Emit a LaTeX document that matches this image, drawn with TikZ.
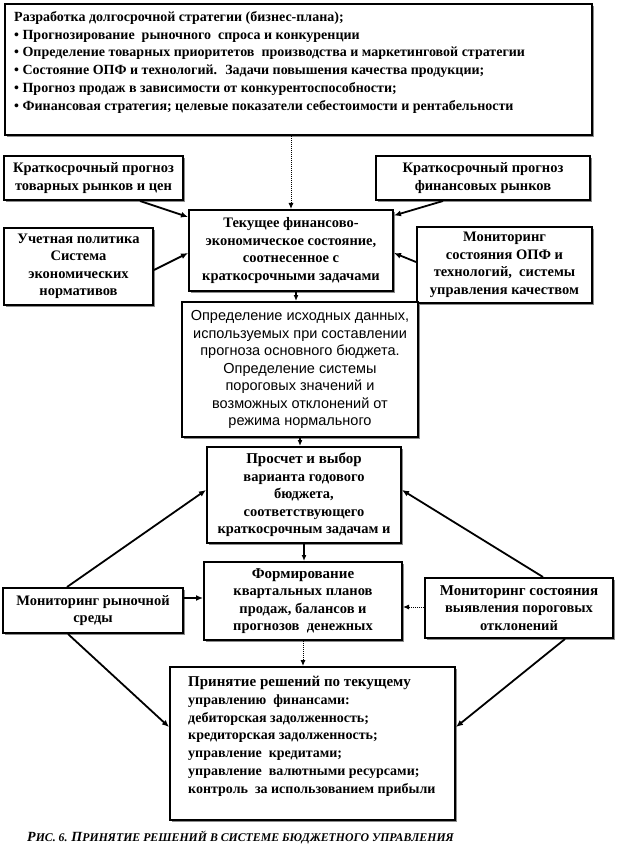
\documentclass[tikz,border=0pt]{standalone}
\usepackage{fontspec}
\setmainfont{Liberation Serif}
\newfontfamily\arialf{Liberation Sans}
\usetikzlibrary{arrows.meta,shadows,calc}
\begin{document}
\begin{tikzpicture}[x=1pt,y=-1pt,
  box/.style={draw=black, line width=2pt, fill=white, inner sep=1pt, align=center,
    font=\fontsize{14.5}{17.5}\selectfont\bfseries,
    drop shadow={shadow xshift=2pt, shadow yshift=-2pt, fill=black!45, opacity=1}},
  arr/.style={line width=1.8pt, -{Latex[length=7pt,width=6pt]}},
  arrthin/.style={line width=1pt, densely dotted, -{Latex[length=6pt,width=5pt]}},
  arrshort/.style={line width=1.4pt, -{Latex[length=6pt,width=5pt]}}]
\useasboundingbox (0,0) rectangle (623,866);
\fill[white] (0,0) rectangle (623,866);

% boxes
\node[box, minimum width=587pt, minimum height=131pt] (top) at (298.5,69.5) {};
\node[anchor=north west, align=left, inner sep=0pt, font=\fontsize{14}{17.8}\selectfont\bfseries] (toptxt) at (14,11)
 {Разработка долгосрочной стратегии (бизнес-плана);\\
  • Прогнозирование \ рыночного \ спроса и конкуренции\\
  • Определение товарных приоритетов \ производства и маркетинговой стратегии\\
  • Состояние ОПФ и технологий. \ Задачи повышения качества продукции;\\
  • Прогноз продаж в зависимости от конкурентоспособности;\\
  • Финансовая стратегия; целевые показатели себестоимости и рентабельности};

\node[box, minimum width=179pt, minimum height=44pt] (kp1) at (93.5,178)
 {Краткосрочный прогноз\\товарных рынков и цен};
\node[box, minimum width=214pt, minimum height=44pt] (kp2) at (483,178)
 {Краткосрочный прогноз\\финансовых рынков};
\node[box, minimum width=204pt, minimum height=81pt] (cur) at (291,250.5)
 {Текущее финансово-\\экономическое состояние,\\соотнесенное с\\краткосрочными задачами};
\node[box, minimum width=149pt, minimum height=77pt] (uch) at (78.5,266.5)
 {Учетная политика\\Система\\экономических\\нормативов};
\node[box, minimum width=175pt, minimum height=76pt] (mon1) at (504.5,265)
 {Мониторинг\\состояния ОПФ и\\технологий, \ системы\\управления качеством};
\node[box, minimum width=236pt, minimum height=135pt, font=\fontsize{14.5}{17.5}\selectfont\arialf] (opr) at (300,369.5)
 {Определение исходных данных,\\используемых при составлении\\прогноза основного бюджета.\\Определение системы\\пороговых значений и\\возможных отклонений от\\режима нормального};
\node[box, minimum width=194pt, minimum height=96pt] (pros) at (304,495)
 {{\fontsize{15}{17.5}\selectfont Просчет и выбор}\\варианта годового\\бюджета,\\соответствующего\\краткосрочным задачам и};
\node[box, minimum width=198pt, minimum height=78pt] (form) at (303,601)
 {{\fontsize{15}{17.5}\selectfont Формирование}\\квартальных планов\\продаж, балансов и\\прогнозов \ денежных};
\node[box, minimum width=180pt, minimum height=45pt] (mr) at (93,610.5)
 {Мониторинг рыночной\\среды};
\node[box, minimum width=188pt, minimum height=60pt] (ms) at (519,608)
 {{\fontsize{15}{17.5}\selectfont Мониторинг состояния}\\выявления пороговых\\отклонений};
\node[box, minimum width=285pt, minimum height=153pt] (prin) at (312.5,743.5) {};
\node[anchor=north west, align=left, inner sep=0pt, font=\fontsize{14}{17.8}\selectfont\bfseries] (printxt) at (188,676)
 {{\fontsize{15}{17.8}\selectfont Принятие решений по текущему}\\
  управлению \ финансами:\\
  дебиторская задолженность;\\
  кредиторская задолженность;\\
  управление \ кредитами;\\
  управление \ валютными ресурсами;\\
  контроль \ за использованием прибыли};

\node[anchor=west, inner sep=0pt, font=\fontsize{11.8}{13}\selectfont\bfseries\itshape] (cap) at (27,838)
 {{\fontsize{14}{13}\selectfont Р}ИС. 6. {\fontsize{14}{13}\selectfont П}РИНЯТИЕ РЕШЕНИЙ В СИСТЕМЕ БЮДЖЕТНОГО УПРАВЛЕНИЯ};

% connectors
\draw[arrthin] (top.south -| cur.north) -- (cur.north);
\draw[arr] ([xshift=46.5pt]kp1.south) -- ([yshift=33.5pt]cur.west);
\draw[arr] ([xshift=-40pt]kp2.south) -- ([yshift=35pt]cur.east);
\draw[arr] ([yshift=-3.5pt]uch.east) -- ([yshift=-2.5pt]cur.west);
\draw[arr] ([yshift=3pt]mon1.west) -- ([yshift=-2.5pt]cur.east);
\draw[arrshort] ([xshift=5pt]cur.south) -- ([xshift=5pt]cur.south |- opr.north);
\draw[arrshort] (opr.south) -- (opr.south |- pros.north);
\draw[arrshort] (pros.south) -- (pros.south |- form.north);
\draw[arr] ([xshift=-26pt]mr.north) -- ([yshift=5pt]pros.west);
\draw[arr] ([xshift=24pt]ms.north) -- ([yshift=5pt]pros.east);
\draw[arr] ([yshift=12.5pt]mr.east) -- ([yshift=3pt]form.west);
\draw[arrthin] ([yshift=1pt]ms.west) -- ([yshift=-6pt]form.east);
\draw[arrthin] (form.south) -- (form.south |- prin.north);
\draw[arr] ([xshift=-25pt]mr.south) -- ([yshift=16.5pt]prin.west);
\draw[arr] ([xshift=46pt]ms.south) -- ([yshift=16.5pt]prin.east);
\end{tikzpicture}
\end{document}
